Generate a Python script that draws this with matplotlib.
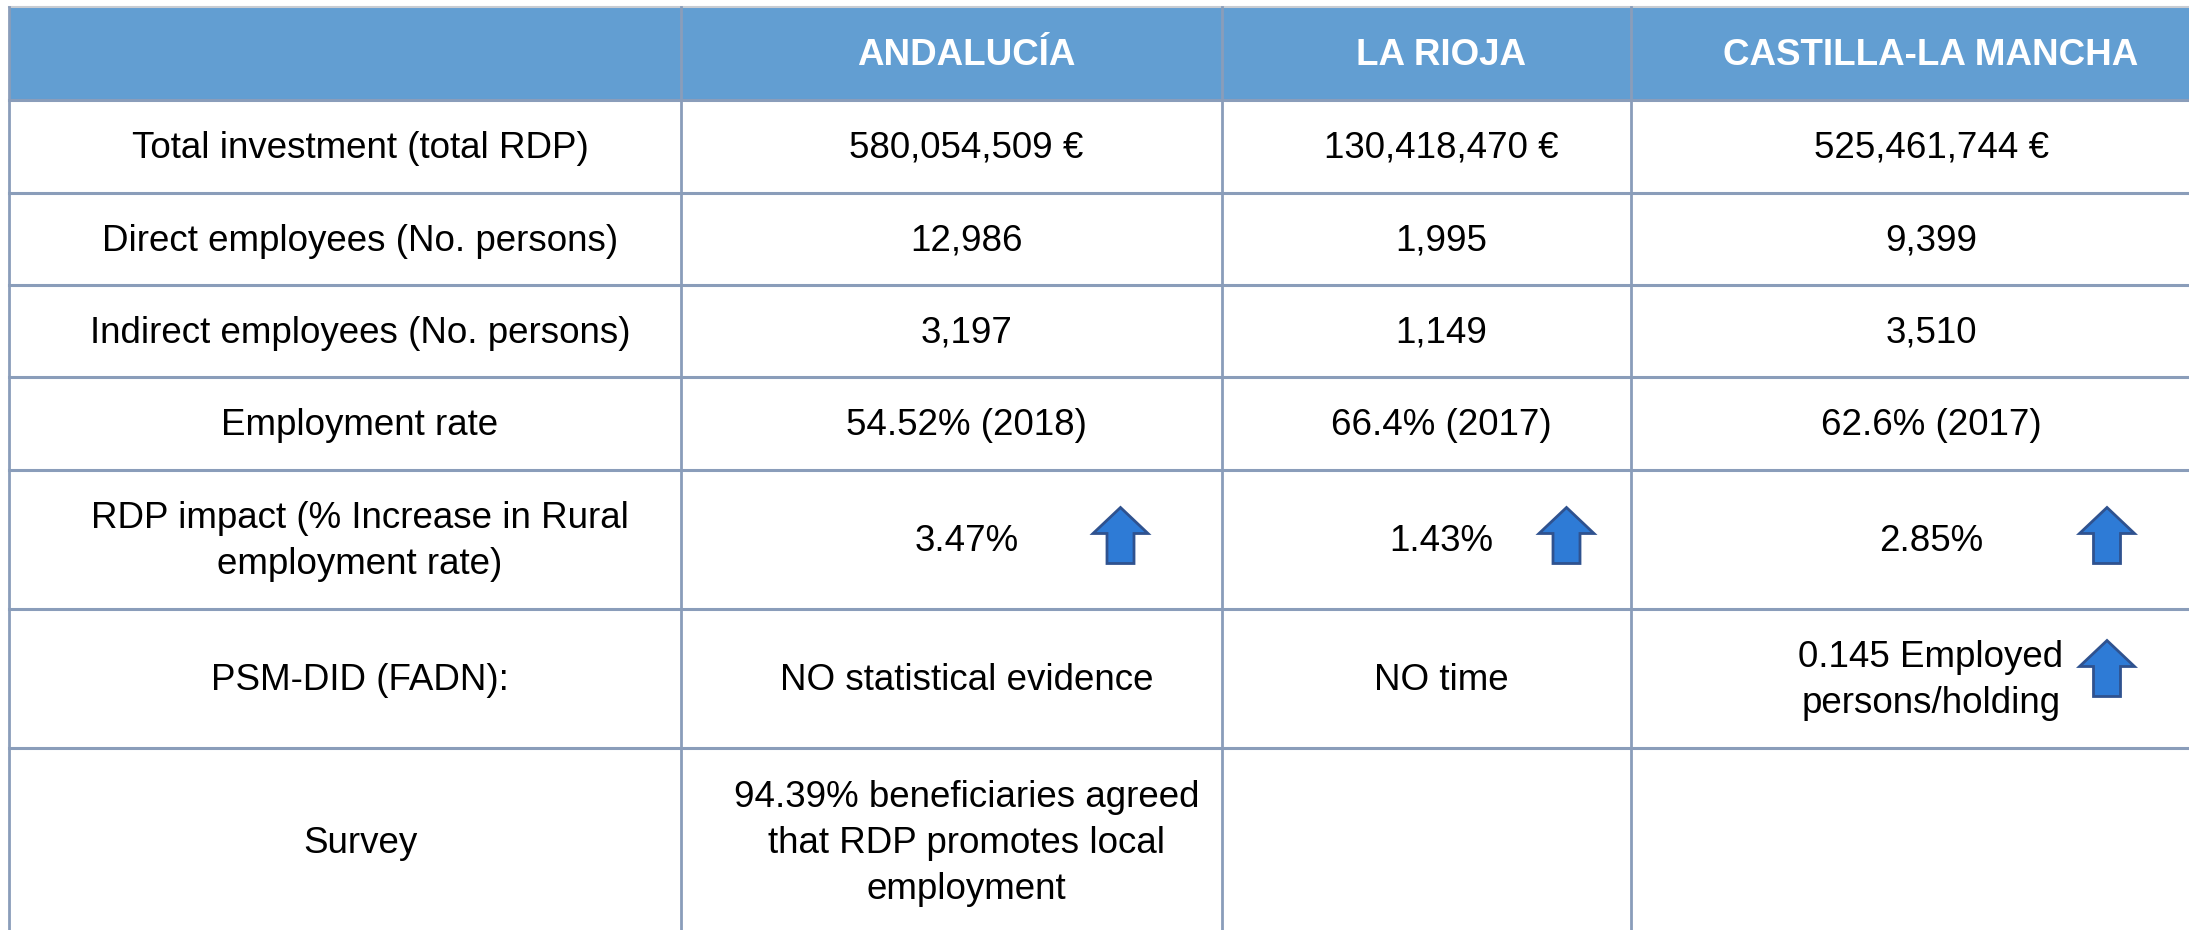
import matplotlib.pyplot as plt
from matplotlib import font_manager
from matplotlib.patches import Rectangle, Polygon

font_manager.findfont(font_manager.FontProperties(family="Liberation Sans"),
                      fallback_to_default=False)
plt.rcParams['font.family'] = ['Liberation Sans', 'DejaVu Sans']

# --- data ---
regions = ["ANDALUCÍA", "LA RIOJA", "CASTILLA-LA MANCHA"]
indicators = [
    "Total investment (total RDP)",
    "Direct employees (No. persons)",
    "Indirect employees (No. persons)",
    "Employment rate",
    "RDP impact (% Increase in Rural\nemployment rate)",
    "PSM-DID (FADN):",
    "Survey",
]
andalucia = ["580,054,509 €", "12,986", "3,197", "54.52% (2018)", "3.47%",
             "NO statistical evidence",
             "94.39% beneficiaries agreed\nthat RDP promotes local\nemployment"]
la_rioja = ["130,418,470 €", "1,995", "1,149", "66.4% (2017)", "1.43%", "NO time", ""]
castilla = ["525,461,744 €", "9,399", "3,510", "62.6% (2017)", "2.85%",
            "0.145 Employed\npersons/holding", ""]
# cells that carry an "increase" arrow: (row, region column)
up_arrows = [(4, 1), (4, 2), (4, 3), (5, 3)]

# --- layout (pixels) ---
W, H = 2189, 930
col_edges = [9, 681, 1222, 1631, 2201]
row_edges = [7, 100, 193, 285, 377, 470, 609, 748, 935]
text_pad = 15
arrow_dx = {1: 169, 2: 140, 3: 191}
arrow_dy = {4: -4, 5: -10}

header_col = "#629ed2"
line_col = "#8a9dba"
arrow_fill = "#2e7bd6"
arrow_edge = "#2f528f"
fs = 26.5

fig = plt.figure(figsize=(W / 100, H / 100), dpi=100)
ax = fig.add_axes([0, 0, 1, 1])
ax.set_xlim(0, W)
ax.set_ylim(H, 0)
ax.axis("off")

# header band
ax.add_patch(Rectangle((col_edges[0], row_edges[0]), col_edges[-1] - col_edges[0],
                       row_edges[1] - row_edges[0], facecolor=header_col,
                       edgecolor="none", zorder=1))
ax.plot([col_edges[0], col_edges[-1]], [row_edges[0], row_edges[0]],
        color="#c8ccd2", lw=1.5, zorder=2)

# grid lines
for y in row_edges[1:]:
    ax.plot([col_edges[0], col_edges[-1]], [y, y], color=line_col, lw=2.2, zorder=2)
for x in col_edges:
    ax.plot([x, x], [row_edges[0], row_edges[-1]], color=line_col, lw=2.0, zorder=2)

def cell_center(r, c):
    # r: 0 = header, c: 0 = indicator column
    cx = (col_edges[c] + col_edges[c + 1]) / 2 + text_pad
    cy = (row_edges[r] + row_edges[r + 1]) / 2
    return cx, cy

for c, name in enumerate(regions, start=1):
    cx, cy = cell_center(0, c)
    ax.text(cx, cy + 2, name, ha="center", va="center", fontsize=fs,
            fontweight="bold", color="white", zorder=3)

columns = [indicators, andalucia, la_rioja, castilla]
for c, col in enumerate(columns):
    for r, val in enumerate(col, start=1):
        if not val:
            continue
        cx, cy = cell_center(r, c)
        ax.text(cx, cy + 2, val, ha="center", va="center", fontsize=fs,
                color="black", linespacing=1.4, zorder=3)

def up_arrow(x, y, w=55, h=56, head=26, shaft=27):
    top = y - h / 2
    bot = y + h / 2
    pts = [(x, top), (x + w / 2, top + head), (x + shaft / 2, top + head),
           (x + shaft / 2, bot), (x - shaft / 2, bot), (x - shaft / 2, top + head),
           (x - w / 2, top + head)]
    ax.add_patch(Polygon(pts, closed=True, facecolor=arrow_fill,
                         edgecolor=arrow_edge, lw=2.0, zorder=4))

for r, c in up_arrows:
    cx, cy = cell_center(r + 1, c)
    up_arrow(cx - text_pad + arrow_dx[c], cy + arrow_dy[r])

fig.savefig("out.png", dpi=100)
